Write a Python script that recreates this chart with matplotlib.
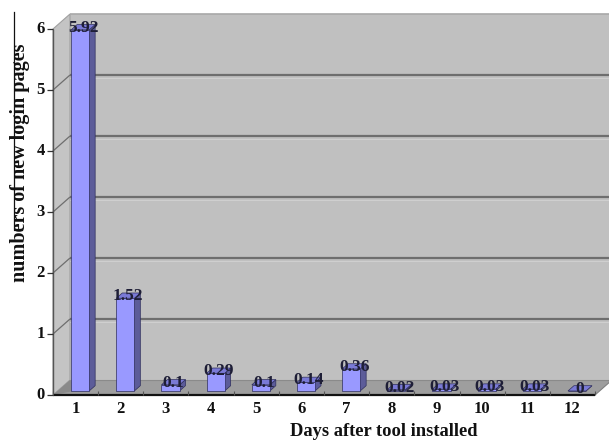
import matplotlib
matplotlib.use("Agg")
import matplotlib.pyplot as plt
from matplotlib.patches import Polygon
from matplotlib.lines import Line2D

# ---- data ----
days = [1, 2, 3, 4, 5, 6, 7, 8, 9, 10, 11, 12]
new_pages = [5.92, 1.52, 0.1, 0.29, 0.1, 0.14, 0.36, 0.02, 0.03, 0.03, 0.03, 0.0]
value_labels = ["5.92", "1.52", "0.1", "0.29", "0.1", "0.14", "0.36", "0.02", "0.03", "0.03", "0.03", "0"]
y_ticks = [0, 1, 2, 3, 4, 5, 6]

W, H, DPI = 609, 441, 100
fig = plt.figure(figsize=(W / DPI, H / DPI), dpi=DPI)
fig.patch.set_facecolor("white")

# front plane of the pseudo-3D box, in pixels
left_px, right_px, base_px, top_px = 53, 595, 395, 29
ax = fig.add_axes([left_px / W, 1 - base_px / H,
                   (right_px - left_px) / W, (base_px - top_px) / H])
x0, x1 = 0.5, len(days) + 0.5
ymax = 6
ax.set_xlim(x0, x1)
ax.set_ylim(0, ymax)
ax.axis("off")

# depth offset (full depth) expressed in data units
px_per_x = (right_px - left_px) / (x1 - x0)
px_per_y = (base_px - top_px) / ymax
DX = 17 / px_per_x
DY = 15 / px_per_y

serif = ["Liberation Serif", "DejaVu Serif"]


def poly(pts, fc, ec="none", lw=0.0, z=1):
    ax.add_patch(Polygon(pts, closed=True, facecolor=fc, edgecolor=ec,
                         linewidth=lw, zorder=z, clip_on=False))


def line(xs, ys, c, lw, z=2):
    ax.add_line(Line2D(xs, ys, color=c, linewidth=lw, zorder=z, clip_on=False,
                       solid_capstyle="butt"))


wall = "#c0c0c0"
# back wall
poly([(x0 + DX, DY), (x1 + DX, DY), (x1 + DX, ymax + DY), (x0 + DX, ymax + DY)],
     wall, z=1)
line([x0 + DX, x1 + DX], [ymax + DY, ymax + DY], "#a8a8a8", 1.2)
# side wall
poly([(x0, 0), (x0 + DX, DY), (x0 + DX, ymax + DY), (x0, ymax)], "#c4c4c4",
     ec="#a0a0a0", lw=0.8, z=1)
# floor
poly([(x0, 0), (x1, 0), (x1 + DX, DY), (x0 + DX, DY)], "#9e9e9e", z=1)
poly([(x0, 0), (x0 + DX, DY), (x0 + 1.6 * DX, DY * 0.35)], "#8a8a8a", z=1)
line([x0 + DX, x1 + DX], [DY, DY], "#8a8a8a", 0.8)

# gridlines on the back wall and the side wall
for v in y_ticks[1:-1]:
    line([x0 + DX, x1 + DX], [v + DY, v + DY], "#6e6e6e", 1.6)
    line([x0 + DX, x1 + DX], [v + DY * 0.8, v + DY * 0.8], "#d2d2d2", 0.6)
    line([x0, x0 + DX], [v, v + DY], "#6e6e6e", 0.9)

# axis lines and ticks
line([x0, x0], [0, ymax], "#555555", 1.0, z=3)
line([x0, x1], [0, 0], "#111111", 1.6, z=3)
line([x1, x1 + DX], [0, DY], "#808080", 0.8, z=3)
tick_len_x = 6 / px_per_x
for v in y_ticks:
    line([x0 - tick_len_x, x0], [v, v], "#333333", 0.9, z=3)
    ax.text(x0 - 8 / px_per_x, v, str(v), ha="right", va="center",
            fontsize=12, fontweight="bold", family=serif, color="#111111")
for k in range(len(days) + 1):
    line([x0 + k, x0 + k], [0, 4 / px_per_y], "#555555", 0.8, z=3)
for d in days:
    ax.text(d, -14 / px_per_y, str(d), ha="center", va="center",
            fontsize=12, fontweight="bold", family=serif, color="#111111")

# bars
half_w = 0.2
d0, d1 = 0.27, 0.62
front_c, side_c, top_c, edge_c = "#9999ff", "#5c5c99", "#7a7ad6", "#2e2e5c"
for d, v, lab in zip(days, new_pages, value_labels):
    fx0 = d - half_w + d0 * DX
    fx1 = d + half_w + d0 * DX
    fb = d0 * DY
    sx1 = d + half_w + d1 * DX
    bx0 = d - half_w + d1 * DX
    sb = d1 * DY
    # side face
    poly([(fx1, fb), (sx1, sb), (sx1, v + sb), (fx1, v + fb)], side_c,
         ec=edge_c, lw=0.5, z=5)
    # top face
    poly([(fx0, v + fb), (fx1, v + fb), (sx1, v + sb), (bx0, v + sb)], top_c,
         ec=edge_c, lw=0.5, z=5)
    # front face
    poly([(fx0, fb), (fx1, fb), (fx1, v + fb), (fx0, v + fb)], front_c,
         ec=edge_c, lw=0.5, z=6)
    ax.text(d + (d0 + d1) / 2 * DX, v + fb + 2 / px_per_y, lab,
            ha="center", va="center", fontsize=12.5, fontweight="bold",
            family=serif, color="#1e1e36", zorder=8)

# axis titles
fig.text(384 / W, 1 - 431 / H, "Days after tool installed", ha="center",
         va="center", fontsize=13.3, fontweight="bold", family=serif,
         color="#111111")
fig.text(20 / W, 1 - 163 / H, "numbers of new login pages", ha="center",
         va="center", rotation=90, fontsize=14.5, fontweight="bold",
         family=serif, color="#111111")

# thin bracket line along the left margin
fig.add_artist(Line2D([14 / W, 14 / W, 22 / W],
                      [1 - 12 / H, 1 - 230 / H, 1 - 230 / H],
                      transform=fig.transFigure, color="#111111",
                      linewidth=0.9))

fig.savefig("out.png", dpi=DPI, facecolor="white")
